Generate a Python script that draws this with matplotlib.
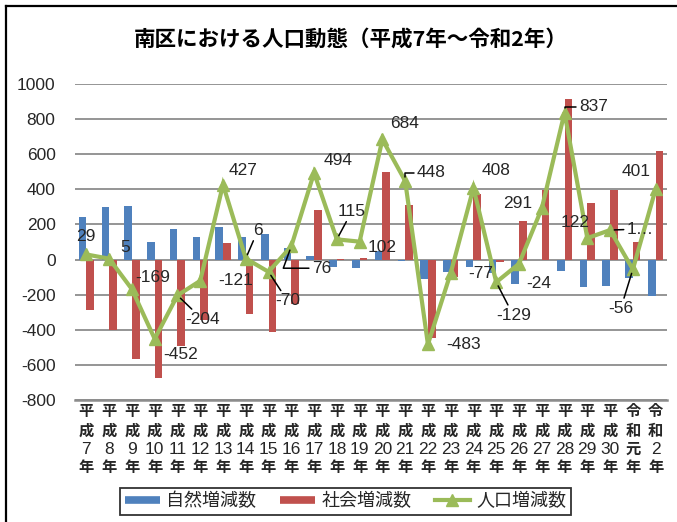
import matplotlib
matplotlib.use('Agg')
import matplotlib.pyplot as plt
from matplotlib.lines import Line2D

plt.rcParams['axes.unicode_minus'] = False

# ---------------- data ----------------
eras = ['平成'] * 24 + ['令和'] * 2
years = ['7', '8', '9', '10', '11', '12', '13', '14', '15', '16', '17', '18', '19',
         '20', '21', '22', '23', '24', '25', '26', '27', '28', '29', '30', '元', '2']
natural = [241, 302, 306, 99, 172, 130, 184, 126, 145, 65, 23, -40, -46,
           50, -11, -113, -69, -40, -78, -137, -3, -65, -157, -153, -103, -205]
social = [-285, -403, -568, -677, -491, -345, 94, -310, -413, -255, 285, 3, 8,
          499, 308, -447, -100, 371, -15, 222, 398, 914, 325, 396, 99, 618]
population = [29, 5, -169, -452, -204, -121, 427, 6, -70, 76, 494, 115, 102,
              684, 448, -483, -77, 408, -129, -24, 291, 837, 122, 168, -56, 401]
pop_labels = ['29', '5', '-169', '-452', '-204', '-121', '427', '6', '-70', '76', '494',
              '115', '102', '684', '448', '-483', '-77', '408', '-129', '-24', '291',
              '837', '122', '1…', '-56', '401']
series_names = ['自然増減数', '社会増減数', '人口増減数']
title = '南区における人口動態（平成7年～令和2年）'
yticks = [-800, -600, -400, -200, 0, 200, 400, 600, 800, 1000]

# ---------------- style ----------------
C_BLUE = '#4F81BD'
C_RED = '#C0504D'
C_GREEN = '#9BBB59'
GRID = '#8C8C8C'
TXT = '#262626'
NUM_FONT = ['Liberation Sans Narrow', 'Liberation Sans', 'DejaVu Sans']
CJK_FONT = ['Noto Sans CJK JP', 'DejaVu Sans']

# label offsets in pixels (dx right, dy down) and leader style
label_off = [(-1, -18), (16, -11), (21, -12), (26, 16), (25, 24), (35, 0), (20, -14),
             (12, -28), (19, 29), (30, 22), (24, -12), (15, -28), (23, 6), (22, -16),
             (26, -8), (36, 0), (30, 0), (23, -17), (17, 33), (20, 20), (-24, -5),
             (29, -6), (-12, -16), (30, -1), (-12, 39), (-19, -18)]
leader = {4: 'arc3', 7: 'arc3', 8: 'arc3', 9: 'angle,angleA=0,angleB=70,rad=0',
          11: 'arc3', 14: 'angle,angleA=0,angleB=90,rad=0', 18: 'arc3',
          21: 'angle,angleA=0,angleB=90,rad=0', 23: 'arc3', 24: 'arc3'}

W, H = 677, 522
fig = plt.figure(figsize=(W / 100, H / 100), dpi=100)
ax = fig.add_axes([75 / W, 1 - 400 / H, (667 - 75) / W, (400 - 84) / H])

x = list(range(len(years)))
bw = 0.333
ax.bar([i - bw / 2 for i in x], natural, width=bw, color=C_BLUE, zorder=2,
       label=series_names[0])
ax.bar([i + bw / 2 for i in x], social, width=bw, color=C_RED, zorder=2,
       label=series_names[1])
ax.plot(x, population, color=C_GREEN, lw=3, marker='^', markersize=9,
        zorder=3, label=series_names[2], solid_joinstyle='miter')

ax.set_xlim(-0.5, len(years) - 0.5)
ax.set_ylim(-800, 1000)
ax.set_yticks(yticks)
ax.set_yticklabels([str(v) for v in yticks], fontfamily=NUM_FONT, fontsize=12.5,
                   color=TXT)
ax.tick_params(axis='y', length=0, pad=14)
ax.tick_params(axis='x', length=0, labelbottom=False)
ax.grid(axis='y', color=GRID, lw=1.3, zorder=0)
ax.set_axisbelow(True)
for s in ['top', 'right', 'left']:
    ax.spines[s].set_visible(False)
ax.spines['bottom'].set_color(GRID)
ax.spines['bottom'].set_linewidth(1.8)
ax.spines['bottom'].set_position(('data', -800))

# x category labels (stacked vertically)
xt = ax.get_xaxis_transform()
for i in x:
    e = eras[i]
    rows = [(e[0], 11, CJK_FONT, 'bold', 11), (e[1], 31, CJK_FONT, 'bold', 11)]
    if years[i].isdigit():
        rows.append((years[i], 49, NUM_FONT, 'normal', 12.5))
    else:
        rows.append((years[i], 49, CJK_FONT, 'bold', 11))
    rows.append(('年', 67, CJK_FONT, 'bold', 11))
    for t, dy, fam, wt, fs in rows:
        ax.annotate(t, xy=(i, 0), xycoords=xt, xytext=(0, -dy),
                    textcoords='offset pixels', ha='center', va='center',
                    fontfamily=fam, fontweight=wt, fontsize=fs, color=TXT,
                    annotation_clip=False)

# data labels for population
for i in x:
    dx, dy = label_off[i]
    kw = {}
    if i in leader:
        kw['arrowprops'] = dict(arrowstyle='-', color='black', lw=1.1,
                                shrinkA=0, shrinkB=3,
                                connectionstyle=leader[i])
    ax.annotate(pop_labels[i], xy=(i, population[i]), xytext=(dx, -dy),
                textcoords='offset pixels', ha='center', va='center',
                fontfamily=NUM_FONT, fontsize=12.5, color=TXT, zorder=5, **kw)

# title
fig.text(350.5 / W, 1 - 39 / H, title, ha='center', va='center',
         fontfamily=CJK_FONT, fontweight='bold', fontsize=15.5, color='black')

# legend
handles = [Line2D([], [], color=C_BLUE, lw=5.5, solid_capstyle='butt'),
           Line2D([], [], color=C_RED, lw=5.5, solid_capstyle='butt'),
           Line2D([], [], color=C_GREEN, lw=3, marker='^', markersize=9)]
leg = fig.legend(handles, series_names, loc='center',
                 bbox_to_anchor=(345.5 / W, 1 - 501.5 / H), ncol=3,
                 frameon=True, fancybox=False, edgecolor='black',
                 prop={'family': CJK_FONT, 'size': 13}, handlelength=1.95,
                 handletextpad=0.35, columnspacing=1.3, borderpad=0.25,
                 labelcolor=TXT)
leg.get_frame().set_linewidth(1.3)

# outer border (left and top visible)
fig.add_artist(Line2D([6 / W, 6 / W], [0, 1 - 6 / H], transform=fig.transFigure,
                      color='black', lw=1.6))
fig.add_artist(Line2D([6 / W, 1], [1 - 6 / H, 1 - 6 / H], transform=fig.transFigure,
                      color='black', lw=1.6))

fig.savefig('out.png', dpi=100)
